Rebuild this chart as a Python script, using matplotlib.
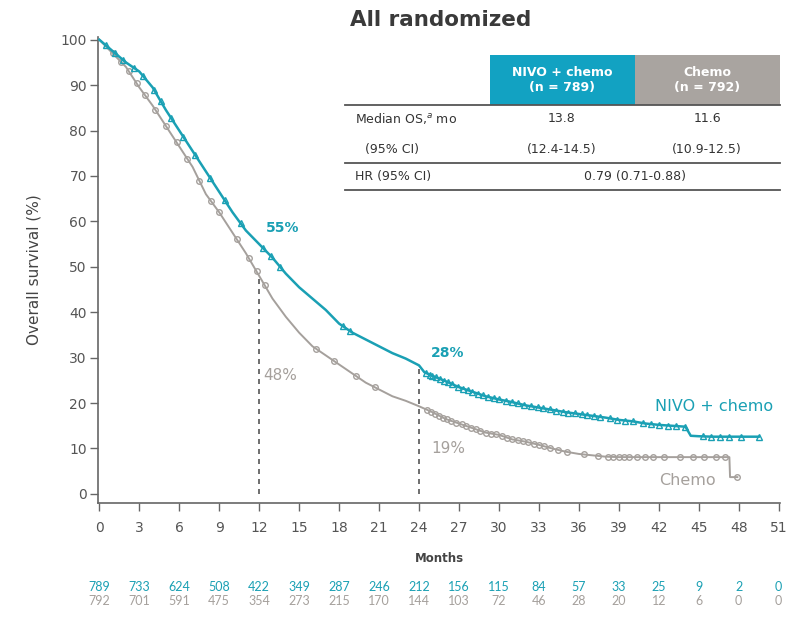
import numpy as np
import matplotlib
matplotlib.use("Agg")
import matplotlib.pyplot as plt
from matplotlib.transforms import blended_transform_factory
from matplotlib.patches import Rectangle
from matplotlib.lines import Line2D

plt.rcParams['font.family'] = ['DejaVu Sans']

# ---------------- data ----------------
nivo_t = [0, 1, 2, 3, 4, 5, 6, 7, 8, 9, 10, 11, 12, 13, 14, 15, 16, 17, 18, 19, 20,
          21, 22, 23, 24, 24.4, 25, 26, 27, 28, 29, 30, 31, 32, 33, 34, 35, 36, 37,
          38, 39, 40, 41, 42, 43, 44, 44.4, 45, 46, 47, 48, 49.5]
nivo_s = [100, 97.5, 95, 93, 89.5, 84.5, 80, 75.5, 71, 66.5, 62, 58, 55, 52, 48.5,
          45.5, 43, 40.5, 37.5, 35.5, 34, 32.5, 31, 29.8, 28.3, 26.8, 26, 24.8, 23.5,
          22.5, 21.5, 20.8, 20.2, 19.5, 19, 18.5, 18, 17.6, 17.2, 16.8, 16.3, 16,
          15.5, 15.2, 15, 14.8, 12.8, 12.7, 12.6, 12.6, 12.6, 12.6]
chemo_t = [0, 1, 2, 3, 4, 5, 6, 7, 8, 9, 10, 11, 12, 13, 14, 15, 16, 17, 18, 19, 20,
           21, 22, 23, 24, 25, 26, 27, 28, 29, 30, 31, 32, 33, 34, 35, 36, 37, 38,
           39, 40, 41, 42, 43, 44, 45, 46, 47.3, 47.35, 47.9]
chemo_s = [100, 97, 94, 89.5, 85.5, 81, 76.5, 72, 66, 62, 57.5, 53, 48, 43, 39, 35.5,
           32.5, 30.5, 28.5, 26.5, 24.5, 23, 21.5, 20.5, 19.3, 18, 16.5, 15.5, 14.5,
           13.5, 13, 12, 11.5, 10.8, 10, 9.3, 8.8, 8.5, 8.2, 8.1, 8.1, 8.1, 8.1, 8.1,
           8.1, 8.1, 8.1, 8.1, 3.7, 3.7]

nivo_cens = [0.5, 1.2, 1.8, 2.6, 3.3, 4.1, 4.6, 5.4, 6.3, 7.2, 8.3, 9.4, 10.6, 12.3,
             12.9, 13.6, 18.3, 18.8, 24.5, 24.8, 25.0, 25.3, 25.6, 25.9, 26.2, 26.5,
             26.9, 27.3, 27.7, 28.0, 28.4, 28.8, 29.2, 29.6, 30.0, 30.5, 31.0, 31.4,
             31.9, 32.4, 32.9, 33.3, 33.8, 34.3, 34.8, 35.2, 35.7, 36.2, 36.6, 37.1,
             37.6, 38.3, 38.9, 39.5, 40.1, 40.8, 41.4, 42.0, 42.7, 43.3, 44.0, 45.3,
             45.9, 46.6, 47.3, 48.2, 49.5]
chemo_cens = [1.0, 1.6, 2.2, 2.8, 3.4, 4.2, 5.0, 5.8, 6.6, 7.5, 8.4, 9.0, 10.3, 11.2,
              11.8, 12.4, 16.3, 17.6, 19.3, 20.7, 24.6, 24.9, 25.2, 25.5, 25.8, 26.1,
              26.4, 26.8, 27.2, 27.5, 27.9, 28.3, 28.6, 29.0, 29.4, 29.8, 30.2, 30.6,
              31.0, 31.4, 31.8, 32.2, 32.6, 33.0, 33.4, 33.8, 34.4, 35.1, 36.4, 37.4,
              38.2, 38.6, 39.0, 39.4, 39.8, 40.4, 41.0, 41.6, 42.4, 43.6, 44.6, 45.4,
              46.3, 47.0, 47.9]

xticks = list(range(0, 52, 3))
risk_nivo = [789, 733, 624, 508, 422, 349, 287, 246, 212, 156, 115, 84, 57, 33, 25, 9, 2, 0]
risk_chemo = [792, 701, 591, 475, 354, 273, 215, 170, 144, 103, 72, 46, 28, 20, 12, 6, 0, 0]

TEAL = '#1aa0b4'
TEAL_HDR = '#12a2c2'
GRAY = '#a5a09c'
GRAY_HDR = '#a9a4a0'
DARK = '#444444'

W, H = 786, 622
fig = plt.figure(figsize=(W / 100, H / 100), dpi=100)

def px(x0, y0, x1, y1):
    return [x0 / W, 1 - y1 / H, (x1 - x0) / W, (y1 - y0) / H]

ax = fig.add_axes(px(98, 37, 780, 503))
ax.set_xlim(-0.1, 51.1)
ax.set_ylim(-2, 100.6)

ax.plot(chemo_t, chemo_s, color=GRAY, lw=1.4, zorder=3)
ax.plot(nivo_t, nivo_s, color=TEAL, lw=1.8, zorder=4)
ax.plot(chemo_cens, np.interp(chemo_cens, chemo_t, chemo_s), ls='none', marker='o',
        ms=4, mfc='none', mec=GRAY, mew=1.0, zorder=3)
ax.plot(nivo_cens, np.interp(nivo_cens, nivo_t, nivo_s), ls='none', marker='^',
        ms=4, mfc='none', mec=TEAL, mew=1.0, zorder=4)

ax.plot([12, 12], [0, 48], ls=(0, (3, 3)), color='#555555', lw=1.2, zorder=2)
ax.plot([24, 24], [0, 28.3], ls=(0, (3, 3)), color='#555555', lw=1.2, zorder=2)

ax.text(12.5, 57, '55%', color=TEAL, fontsize=10, fontweight='bold', ha='left', va='bottom')
ax.text(12.3, 26, '48%', color=GRAY, fontsize=11, ha='left', va='center')
ax.text(24.9, 29.5, '28%', color=TEAL, fontsize=10, fontweight='bold', ha='left', va='bottom')
ax.text(24.9, 10, '19%', color=GRAY, fontsize=11, ha='left', va='center')
ax.text(50.6, 19.2, 'NIVO + chemo', color=TEAL, fontsize=11.5, ha='right', va='center')
ax.text(46.3, 3.0, 'Chemo', color=GRAY, fontsize=11.5, ha='right', va='center')

ax.set_xticks(xticks)
ax.set_yticks(range(0, 101, 10))
ax.tick_params(axis='both', colors='#666666', labelcolor='#555555', labelsize=10, length=6, width=1)
ax.tick_params(axis='x', pad=7)
ax.tick_params(axis='y', pad=2)
for s in ['top', 'right']:
    ax.spines[s].set_visible(False)
for s in ['left', 'bottom']:
    ax.spines[s].set_color('#666666')
    ax.spines[s].set_linewidth(1.2)
ax.set_xlabel('Months', fontsize=8.5, fontweight='bold', color=DARK, labelpad=12)
ax.set_ylabel('Overall survival (%)', fontsize=11, color=DARK, labelpad=14)

tr = blended_transform_factory(ax.transData, fig.transFigure)
for x, a, b in zip(xticks, risk_nivo, risk_chemo):
    ax.text(x, 1 - 587 / H, str(a), transform=tr, color=TEAL, fontsize=9, ha='center',
            va='center', family='Lato')
    ax.text(x, 1 - 601 / H, str(b), transform=tr, color=GRAY, fontsize=9, ha='center',
            va='center', family='Lato')

# title
fig.text(441 / W, 1 - 20 / H, 'All randomized', fontsize=15.5, fontweight='bold', color='#3a3a3a',
         ha='center', va='center')

# table
def ftext(x, y, s, **kw):
    fig.text(x / W, 1 - y / H, s, **kw)

fig.add_artist(Rectangle((490 / W, 1 - 105 / H), 145 / W, 50 / H, transform=fig.transFigure,
                         facecolor=TEAL_HDR, edgecolor='none'))
fig.add_artist(Rectangle((635 / W, 1 - 105 / H), 145 / W, 50 / H, transform=fig.transFigure,
                         facecolor=GRAY_HDR, edgecolor='none'))
for yy in (105, 163, 190):
    fig.add_artist(Line2D([345 / W, 780 / W], [1 - yy / H, 1 - yy / H], transform=fig.transFigure,
                          color='#555555', lw=1.3))
ftext(562, 80, 'NIVO + chemo\n(n = 789)', color='white', fontsize=9, fontweight='bold',
      ha='center', va='center', linespacing=1.3)
ftext(707, 80, 'Chemo\n(n = 792)', color='white', fontsize=9, fontweight='bold',
      ha='center', va='center', linespacing=1.3)
tk = dict(color='#333333', fontsize=9, va='center')
ftext(355, 119, 'Median OS,$^{a}$ mo', ha='left', **tk)
ftext(562, 119, '13.8', ha='center', **tk)
ftext(707, 119, '11.6', ha='center', **tk)
ftext(392, 150, '(95% CI)', ha='center', **tk)
ftext(562, 150, '(12.4-14.5)', ha='center', **tk)
ftext(707, 150, '(10.9-12.5)', ha='center', **tk)
ftext(355, 177, 'HR (95% CI)', ha='left', **tk)
ftext(635, 177, '0.79 (0.71-0.88)', ha='center', **tk)

fig.savefig('out.png', dpi=100)
